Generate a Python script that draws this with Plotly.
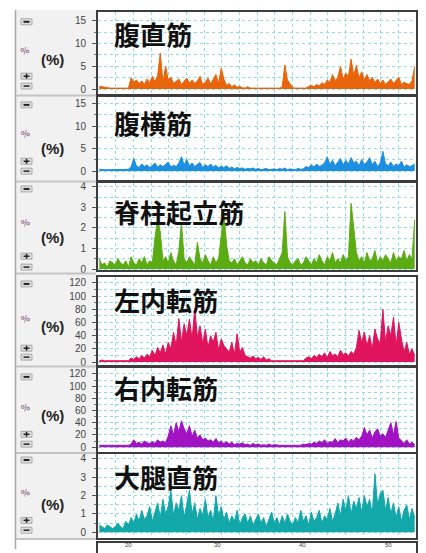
import numpy as np
import plotly.graph_objects as go

W, H = 426, 553

# ---------------- data (EMG %, 120 samples per muscle) ----------------
titles = ["腹直筋", "腹横筋", "脊柱起立筋", "左内転筋", "右内転筋", "大腿直筋"]
colors = ["#e8650c", "#1c8fe0", "#5aac12", "#e0145c", "#a012c2", "#12a8aa"]
sample_interval = 0.15

rectus_abdominis = [
    0.6, 0.5, 0.3, 0.2, 0.2, 0.2, 0.2, 0.2, 0.2, 0.2,
    0.2, 0.2, 2.5, 1.5, 2.0, 1.2, 1.8, 1.0, 2.2, 1.4,
    2.8, 1.6, 3.0, 7.9, 1.5, 5.0, 2.0, 2.6, 1.2, 1.8,
    2.2, 1.0, 1.6, 2.4, 1.3, 2.0, 1.2, 1.8, 2.8, 1.0,
    1.5, 2.4, 1.1, 2.0, 3.2, 1.2, 4.6, 2.2, 0.8, 1.2,
    0.5, 0.9, 0.4, 0.6, 0.3, 0.2, 0.5, 0.2, 0.2, 0.2,
    0.2, 0.2, 0.2, 0.2, 0.2, 0.2, 0.2, 0.2, 0.2, 0.4,
    5.3, 2.0, 1.0, 0.3, 0.2, 0.2, 0.2, 0.2, 0.2, 0.6,
    0.8, 0.5, 1.0, 0.7, 1.4, 1.0, 2.0, 1.5, 3.2, 1.8,
    2.6, 5.0, 2.2, 3.5, 2.8, 6.6, 3.0, 5.2, 2.4, 3.8,
    2.0, 3.2, 1.8, 2.6, 1.4, 2.2, 1.2, 2.0, 1.0, 1.6,
    2.2, 1.2, 1.8, 2.6, 1.0, 1.5, 1.2, 1.0, 1.8, 5.0,
]
transversus_abdominis = [
    0.4, 0.3, 0.3, 0.3, 0.3, 0.3, 0.3, 0.4, 0.3, 0.3,
    0.3, 0.4, 1.0, 2.8, 1.2, 0.8, 1.6, 1.0, 1.4, 0.8,
    1.2, 1.8, 0.9, 1.4, 1.0, 1.6, 2.0, 0.9, 1.3, 1.0,
    1.8, 3.2, 1.4, 2.6, 1.2, 1.8, 1.0, 1.5, 1.9, 0.8,
    1.4, 1.0, 1.6, 0.9, 1.3, 0.7, 1.1, 0.8, 1.2, 0.6,
    0.9, 0.5, 0.8, 0.6, 0.7, 0.4, 0.6, 0.5, 0.7, 0.4,
    0.6, 0.3, 0.5, 0.6, 0.3, 0.4, 0.5, 0.3, 0.6, 0.4,
    0.7, 0.3, 0.5, 0.4, 0.3, 0.6, 0.4, 0.5, 1.0, 0.8,
    1.4, 0.9, 1.6, 1.0, 1.3, 1.8, 3.2, 1.5, 2.4, 1.2,
    2.0, 2.8, 1.4, 2.4, 1.6, 3.0, 1.8, 2.2, 1.2, 2.6,
    1.5, 2.0, 3.0, 1.4, 2.2, 1.0, 1.8, 4.4, 1.6, 1.2,
    2.0, 1.0, 1.6, 1.2, 2.2, 0.9, 1.4, 1.0, 1.2, 1.6,
]
erector_spinae = [
    0.5, 0.2, 0.3, 0.1, 0.4, 0.3, 0.2, 0.5, 0.3, 0.2,
    0.4, 0.1, 0.6, 0.3, 0.2, 0.5, 0.3, 0.6, 0.2, 0.4,
    0.3, 1.5, 2.5, 1.8, 0.4, 0.6, 0.3, 0.8, 0.4, 0.2,
    0.9, 2.25, 0.5, 0.3, 0.6, 0.4, 0.2, 1.3, 0.5, 0.3,
    0.7, 0.4, 0.2, 0.6, 0.3, 0.5, 1.5, 2.75, 1.2, 0.4,
    0.3, 0.5, 0.2, 0.4, 0.6, 0.3, 0.2, 0.5, 0.3, 0.4,
    0.2, 0.5, 0.3, 0.2, 0.6, 0.4, 0.3, 0.2, 0.5, 0.8,
    2.8, 0.6, 0.3, 0.2, 0.4, 0.5, 0.2, 0.3, 0.6, 0.4,
    0.2, 0.5, 0.3, 0.7, 0.4, 0.2, 0.6, 0.4, 0.8, 0.3,
    0.5, 0.3, 0.7, 0.4, 0.6, 3.2, 2.0, 0.8, 0.4, 0.6,
    0.3, 0.8, 0.4, 0.5, 0.9, 0.3, 0.6, 0.4, 0.7, 0.5,
    0.3, 0.8, 0.4, 0.6, 0.5, 0.9, 0.4, 0.7, 0.5, 2.4,
]
left_adductor = [
    2, 3, 2, 2, 3, 2, 2, 3, 2, 2,
    3, 2, 6, 4, 8, 5, 10, 6, 12, 8,
    18, 10, 22, 14, 26, 12, 30, 20, 45, 25,
    66, 30, 58, 40, 65, 35, 81, 38, 55, 28,
    50, 22, 40, 30, 45, 18, 35, 25, 20, 15,
    30, 12, 43, 15, 22, 10, 8, 6, 9, 5,
    7, 4, 8, 3, 5, 2, 2, 2, 2, 2,
    2, 2, 2, 2, 2, 2, 2, 2, 6, 8,
    5, 10, 7, 12, 8, 14, 6, 16, 10, 12,
    8, 18, 11, 14, 9, 16, 12, 22, 48, 30,
    45, 25, 40, 20, 50, 35, 28, 80, 30, 55,
    40, 68, 25, 60, 35, 15, 30, 12, 20, 10,
]
right_adductor = [
    3, 3, 3, 3, 3, 3, 3, 3, 3, 3,
    3, 3, 5, 12, 6, 8, 5, 10, 7, 6,
    9, 6, 12, 8, 10, 7, 18, 35, 20, 40,
    25, 43, 30, 22, 35, 18, 28, 15, 20, 12,
    15, 10, 12, 8, 14, 7, 10, 6, 9, 5,
    8, 4, 6, 5, 7, 4, 5, 3, 6, 4,
    5, 3, 4, 3, 5, 3, 4, 3, 3, 3,
    3, 3, 3, 3, 3, 4, 3, 5, 4, 6,
    5, 8, 6, 10, 7, 12, 6, 9, 8, 14,
    7, 12, 10, 15, 8, 13, 10, 16, 12, 18,
    32, 20, 28, 15, 25, 30, 18, 22, 16, 28,
    40, 20, 42, 15, 10, 6, 12, 5, 8, 4,
]
rectus_femoris = [
    0.4, 0.3, 0.2, 0.4, 0.3, 0.2, 0.3, 0.5, 0.3, 0.2,
    0.6, 0.4, 0.8, 0.5, 1.0, 0.6, 1.2, 0.7, 0.9, 1.4,
    0.6, 1.1, 1.6, 0.8, 1.8, 1.0, 1.4, 2.3, 0.9, 1.6,
    1.2, 2.0, 0.8, 1.5, 2.3, 1.0, 1.6, 0.7, 1.3, 0.9,
    1.8, 0.8, 1.2, 0.6, 2.0, 0.9, 1.4, 0.7, 1.1, 0.5,
    0.9, 0.6, 1.2, 0.4, 0.8, 1.0, 0.5, 0.9, 0.4, 0.7,
    1.0, 0.5, 0.8, 0.3, 0.7, 1.1, 0.5, 0.8, 0.4, 0.9,
    0.5, 1.0, 0.6, 0.4, 0.8, 0.5, 1.2, 0.6, 0.9, 0.4,
    1.1, 0.6, 0.8, 1.2, 0.5, 0.9, 0.7, 1.3, 0.6, 1.0,
    1.6, 0.9, 1.8, 1.2, 2.0, 1.0, 1.7, 1.3, 1.9, 1.1,
    2.0, 1.4, 1.8, 1.0, 3.2, 1.5, 2.1, 2.3, 1.2, 1.9,
    1.0, 1.6, 0.8, 1.4, 0.6, 1.2, 1.5, 0.7, 1.3, 0.8,
]
series = [rectus_abdominis, transversus_abdominis, erector_spinae,
          left_adductor, right_adductor, rectus_femoris]

y_tickvals = [[0, 5, 10, 15], [0, 5, 10, 15], [0, 1, 2, 3, 4],
              [0, 20, 40, 60, 80, 100, 120], [0, 20, 40, 60, 80, 100, 120],
              [0, 1, 2, 3, 4]]
y_minor = [2.5, 2.5, 0.5, 10, 10, 0.5]
bottom_labels = ["20", "30", "40", "50"]

# ---------------- layout geometry (pixels) ----------------
PL, PR = 98, 416
panel_px = [(10, 93), (96, 180), (183, 271), (278, 367), (370, 455), (457, 542)]
y_ranges = [(-1.09, 16.96), (-1.99, 16.5), (-0.05, 4.19), (-4.5, 129),
            (-8.1, 129.7), (-0.32, 4.27)]
title_cy = [32, 122, 212, 301, 390, 480]
pct_cy = [58, 148, 238, 328, 418, 508]
icon_cy = [50, 133, 223, 320, 410, 496]
btn_down = [(17, 23), (101, 107), (186, 192), (282, 288), (376, 382), (460, 466)]
btn_plus = [(72, 78), (158, 164), (254, 260), (347, 353), (434, 440), (521, 527)]
btn_minus = [(82, 88), (168, 174), (265, 271), (356, 362), (444, 450), (531, 537)]
separators = [94.5, 181.5, 274.5, 368.5, 456, 543]


def px(x):
    return x / W


def py(y):
    return 1 - y / H


GRID = "#8fdde9"
FRAME = "#3c3c3c"
t = (np.arange(len(rectus_abdominis)) + 0.5) * sample_interval

fig = go.Figure()
layout = dict(width=W, height=H, margin=dict(l=0, r=0, t=0, b=0),
              paper_bgcolor="white", plot_bgcolor="white", showlegend=False)
shapes = []
annotations = []

# left grey column
shapes.append(dict(type="rect", xref="paper", yref="paper", x0=px(16), x1=px(96),
                   y0=py(542), y1=py(8), fillcolor="#f1f1f1", line=dict(width=0),
                   layer="below"))
shapes.append(dict(type="line", xref="paper", yref="paper", x0=px(15.5), x1=px(15.5),
                   y0=0, y1=py(8), line=dict(color="#a8a8a8", width=1.5)))

for i in range(6):
    k = i + 1
    sfx = "" if k == 1 else str(k)
    xa, ya = "x" + sfx, "y" + sfx
    top, bot = panel_px[i]
    fig.add_trace(go.Scatter(x=t, y=series[i], xaxis=xa, yaxis=ya, mode="lines",
                             line=dict(color=colors[i], width=1),
                             fill="tozeroy", fillcolor=colors[i], hoverinfo="skip"))
    layout["xaxis" + sfx] = dict(
        domain=[px(PL), px(PR)], anchor=ya, range=[0, 18], dtick=1, tick0=0,
        showticklabels=False, ticks="", showgrid=True, gridcolor=GRID,
        griddash="dot", gridwidth=1, zeroline=False, showline=True, mirror=True,
        linecolor=FRAME, linewidth=2, fixedrange=True)
    layout["yaxis" + sfx] = dict(
        domain=[py(bot), py(top)], anchor=xa, range=list(y_ranges[i]),
        tickvals=y_tickvals[i], ticks="outside", ticklen=4, tickcolor="#555",
        tickwidth=1, ticklabelstandoff=4,
        tickfont=dict(family="Liberation Sans", size=10, color="#444"),
        minor=dict(dtick=y_minor[i], tick0=0, showgrid=True, gridcolor=GRID,
                   griddash="dot", ticks="outside", ticklen=2, tickcolor="#777"),
        showgrid=True, gridcolor=GRID, griddash="dot", gridwidth=1,
        zeroline=False, showline=True, mirror=True, linecolor=FRAME,
        linewidth=2, fixedrange=True)

    annotations.append(dict(text=titles[i], xref="paper", yref="paper",
                            x=px(112), y=py(title_cy[i]), xanchor="left",
                            yanchor="middle", showarrow=False,
                            font=dict(family="Noto Sans CJK JP", size=26,
                                      color="#111", weight=700)))
    annotations.append(dict(text="<b>(%)</b>", xref="paper", yref="paper",
                            x=px(52), y=py(pct_cy[i]), xanchor="center",
                            yanchor="middle", showarrow=False,
                            font=dict(family="Liberation Sans", size=15,
                                      color="#222")))
    annotations.append(dict(text="%", xref="paper", yref="paper",
                            x=px(25), y=py(icon_cy[i]), xanchor="center",
                            yanchor="middle", showarrow=False, textangle=-20,
                            font=dict(family="DejaVu Sans", size=9,
                                      color="#7a4a78")))
    # buttons
    for (b0, b1), kind in ((btn_down[i], "down"), (btn_plus[i], "plus"),
                           (btn_minus[i], "minus")):
        shapes.append(dict(type="rect", xref="paper", yref="paper",
                           x0=px(21), x1=px(32), y0=py(b1), y1=py(b0),
                           fillcolor="#dedede", line=dict(color="#a9a9a9", width=1)))
        cy = (b0 + b1) / 2
        shapes.append(dict(type="line", xref="paper", yref="paper",
                           x0=px(23.5), x1=px(29.5), y0=py(cy), y1=py(cy),
                           line=dict(color="#222", width=1.5 if kind != "down" else 2)))
        if kind == "plus":
            shapes.append(dict(type="line", xref="paper", yref="paper",
                               x0=px(26.5), x1=px(26.5), y0=py(cy + 2.5),
                               y1=py(cy - 2.5), line=dict(color="#222", width=1.5)))

# separators between panels
for s in separators:
    shapes.append(dict(type="line", xref="paper", yref="paper", x0=px(16), x1=px(96),
                       y0=py(s), y1=py(s), line=dict(color="#c4c4c4", width=2)))

# bottom time-axis strip (cut off by window)
shapes.append(dict(type="rect", xref="paper", yref="paper", x0=px(97), x1=px(417),
                   y0=py(560), y1=py(546), fillcolor="white",
                   line=dict(color=FRAME, width=2)))
label_x = [128, 217, 302, 388]
for lx, lab in zip(label_x, bottom_labels):
    annotations.append(dict(text=lab, xref="paper", yref="paper", x=px(lx),
                            y=py(553), xanchor="center", yanchor="bottom",
                            showarrow=False, borderpad=0,
                            font=dict(family="Liberation Sans", size=6,
                                      color="#444")))

layout["shapes"] = shapes
layout["annotations"] = annotations
fig.update_layout(**layout)
fig.write_html("out.html", config={"displayModeBar": False},
               post_script="document.body.style.margin='0';"
                           "document.body.style.overflow='hidden';")
